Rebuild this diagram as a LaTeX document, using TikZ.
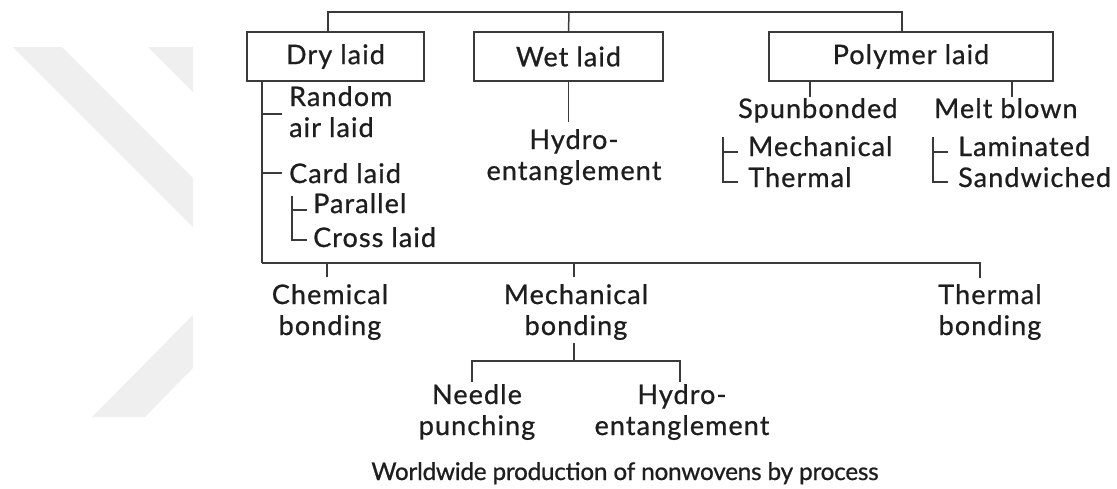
\documentclass[tikz,border=0pt]{standalone}
\usepackage{fontspec}
\setmainfont{Lato}
\newfontfamily\lblfamily[LetterSpace=4,FakeBold=0.8]{Lato}
\newfontfamily\capfamily[LetterSpace=-1,FakeBold=0.8]{Lato}
\definecolor{ln}{HTML}{3A3A3A}
\definecolor{txt}{HTML}{1E1E1E}
\definecolor{wm}{HTML}{EFEFEF}
\newcommand{\myfont}{\lblfamily\fontsize{27}{31}\selectfont}
\newcommand{\capfont}{\capfamily\fontsize{24.3}{29}\selectfont}
\tikzset{
  lbl/.style={inner sep=0pt, font=\myfont, text=txt},
  boxnode/.style={draw=ln, line width=1.5pt, minimum height=49pt, inner sep=0pt, font=\myfont, text=txt},
  conn/.style={draw=ln, line width=1.5pt},
}
\begin{document}
\begin{tikzpicture}[x=1pt,y=-1pt]
\useasboundingbox (0,0) rectangle (1117,488);
% watermark
\fill[wm] (13,47) -- (62,47) -- (193,178) -- (193,227) -- cycle;
\fill[wm] (148,47) -- (193,47) -- (193,92) -- cycle;
\fill[wm] (92,417) -- (145,417) -- (193,368) -- (193,315) -- cycle;
% boxes
\node[boxnode, minimum width=177pt] (dry) at (335.5,56.5) {Dry laid};
\node[boxnode, minimum width=189pt] (wet) at (568.5,56.5) {Wet laid};
\node[boxnode, minimum width=284pt] (poly) at (911,56.5) {Polymer laid};
% top bar
\coordinate (top) at (569,12);
\draw[conn] ([xshift=-7.5pt]dry.north) |- (top) -| ([xshift=-9pt]poly.north);
\draw[conn] (top) -- (wet.north);
% dry laid branch
\node[lbl, anchor=base west, align=left] (random) at (289,137) {Random\\air laid};
\node[lbl, anchor=base west] (card) at (289,183) {Card laid};
\node[lbl, anchor=base west] (parallel) at (313,213) {Parallel};
\node[lbl, anchor=base west] (cross) at (313,247) {Cross laid};
\coordinate (dtop) at (262,81);
\coordinate (dbot) at (262,263);
\coordinate (trand) at (262,114);
\coordinate (tcard) at (262,173);
\draw[conn] (dtop) -- (dbot);
\draw[conn] (trand) -- (282,114);
\draw[conn] (tcard) -- (282,173);
\coordinate (ctop) at (292,196);
\draw[conn] (ctop) -- (292,240) -- (307,240);
\draw[conn] (292,210) -- (307,210);
% wet laid branch
\node[lbl, anchor=base, align=center] (hydro1) at (574,180) {Hydro-\\entanglement};
\draw[conn] (wet.south) -- (568.5,122);
% polymer branch
\node[lbl, anchor=base west] (spun) at (738,118) {Spunbonded};
\node[lbl, anchor=base west] (melt) at (934,118) {Melt blown};
\draw[conn] (810,81) -- (810,97);
\draw[conn] (1012,81) -- (1012,97);
\node[lbl, anchor=base west] (smech) at (748,156) {Mechanical};
\node[lbl, anchor=base west] (stherm) at (748,187) {Thermal};
\draw[conn] (723,137) -- (723,182) -- (738,182);
\draw[conn] (723,152) -- (738,152);
\node[lbl, anchor=base west] (lam) at (958,156) {Laminated};
\node[lbl, anchor=base west] (sand) at (958,187) {Sandwiched};
\draw[conn] (933,137) -- (933,182) -- (948,182);
\draw[conn] (933,152) -- (948,152);
% bonding
\node[lbl, anchor=base, align=center] (chem) at (330,335) {Chemical\\bonding};
\node[lbl, anchor=base, align=center] (mech) at (576,335) {Mechanical\\bonding};
\node[lbl, anchor=base, align=center] (therm) at (990,335) {Thermal\\bonding};
\coordinate (tb) at (980,263);
\draw[conn] (dbot) -- (tb) -- (980,278);
\draw[conn] (327,263) -- (327,277);
\draw[conn] (574,263) -- (574,277);
% mechanical bonding sub
\node[lbl, anchor=base, align=center] (needle) at (477,435) {Needle\\punching};
\node[lbl, anchor=base, align=center] (hydro2) at (682,435) {Hydro-\\entanglement};
\coordinate (mb) at (574,361);
\draw[conn] (574,343) -- (mb);
\draw[conn] (472,382) -- (472,361) -- (680,361) -- (680,382);
% caption
\node[inner sep=0pt, font=\capfont, text=txt, anchor=base] (cap) at (625,480) {Worldwide production of nonwovens by process};
\end{tikzpicture}
\end{document}
